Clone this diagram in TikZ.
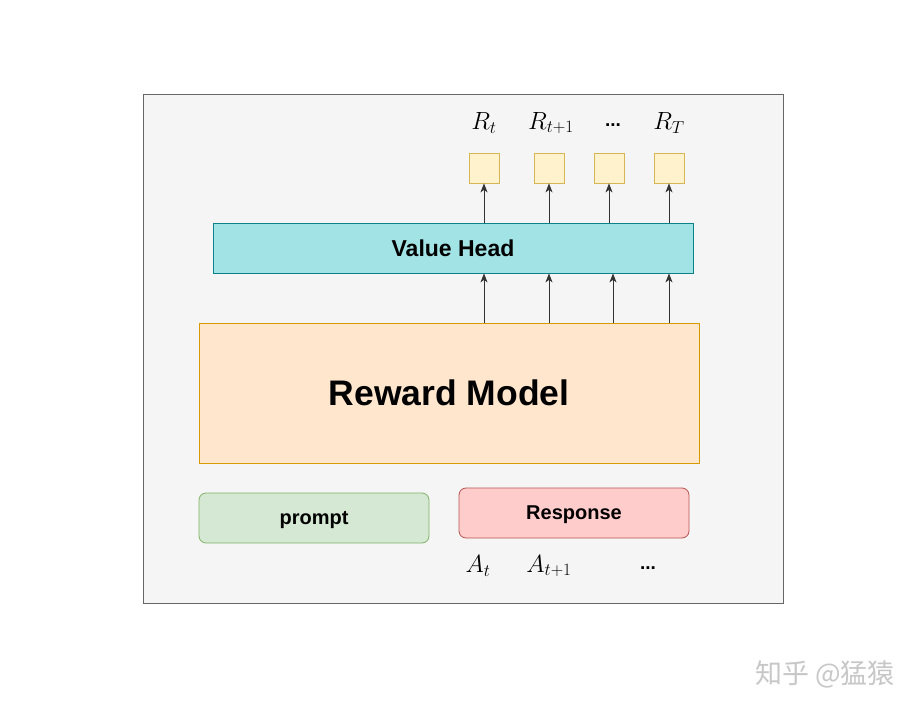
\documentclass[tikz,border=0pt]{standalone}
\usepackage{fontspec}
\setmainfont{Liberation Sans}
\newfontfamily\cjk{Noto Sans CJK SC}
\usetikzlibrary{arrows.meta}
\definecolor{bgfill}{HTML}{F5F5F5}
\definecolor{bgdraw}{HTML}{666666}
\definecolor{vhfill}{HTML}{A2E4E6}
\definecolor{vhdraw}{HTML}{0E8088}
\definecolor{rmfill}{HTML}{FFE6CC}
\definecolor{rmdraw}{HTML}{D79B00}
\definecolor{prfill}{HTML}{D5E8D4}
\definecolor{prdraw}{HTML}{82B366}
\definecolor{rsfill}{HTML}{FFCCCC}
\definecolor{rsdraw}{HTML}{B85450}
\definecolor{sqfill}{HTML}{FFF2CC}
\definecolor{sqdraw}{HTML}{D6B656}
\tikzset{
  box/.style={draw, line width=0.8pt, inner sep=0pt, font=\bfseries},
  sqbox/.style={draw=sqdraw, fill=sqfill, line width=0.8pt, minimum width=30pt, minimum height=30pt, inner sep=0pt},
  lab/.style={font=\fontsize{24}{28}\selectfont, inner sep=0pt},
  dotlab/.style={font=\bfseries\fontsize{19}{22}\selectfont, inner sep=0pt},
  arr/.style={-{Stealth[length=9pt,width=7pt,inset=2.5pt]}, line width=1pt, draw=black!80, fill=black},
}
\begin{document}
\begin{tikzpicture}[x=1pt,y=-1pt]
\useasboundingbox (0,0) rectangle (921,711);
\fill[white] (0,0) rectangle (921,711);
\node[draw=bgdraw, fill=bgfill, line width=0.8pt, minimum width=640pt, minimum height=509pt, inner sep=0pt] (bg) at (463,348.5) {};
\node[box, draw=vhdraw, fill=vhfill, minimum width=480pt, minimum height=50pt, font=\bfseries\fontsize{23}{26}\selectfont] (vh) at (453,248) {Value Head};
\node[box, draw=rmdraw, fill=rmfill, minimum width=500pt, minimum height=140pt, font=\bfseries\fontsize{35.5}{40}\selectfont] (rm) at (449,393) {Reward Model};
\node[box, draw=prdraw, fill=prfill, rounded corners=7pt, minimum width=230pt, minimum height=50pt, text depth=0pt, font=\bfseries\fontsize{20}{24}\selectfont] (pr) at (314,518) {prompt};
\node[box, draw=rsdraw, fill=rsfill, rounded corners=7pt, minimum width=230pt, minimum height=50pt, text depth=0pt, font=\bfseries\fontsize{20}{24}\selectfont] (rs) at (574,513) {Response};
\node[sqbox] (s1) at (484,168) {};
\node[sqbox] (s2) at (549,168) {};
\node[sqbox] (s3) at (609,168) {};
\node[sqbox] (s4) at (669,168) {};
\node[lab] (r1) at (484,123) {$R_t$};
\node[lab] (r2) at (551,123) {$R_{t+1}$};
\node[dotlab] (rd) at (613,125) {...};
\node[lab] (r4) at (669,123) {$R_T$};
\node[lab] (a1) at (478,566) {$A_t$};
\node[lab] (a2) at (549,566) {$A_{t+1}$};
\node[dotlab] (ad) at (648,568) {...};
\draw[arr] (vh.north -| s1) -- (s1.south);
\draw[arr] (vh.north -| s2) -- (s2.south);
\draw[arr] (vh.north -| s3) -- (s3.south);
\draw[arr] (vh.north -| s4) -- (s4.south);
\draw[arr] (rm.north -| s1) -- (vh.south -| s1);
\draw[arr] (rm.north -| s2) -- (vh.south -| s2);
\draw[arr] (rm.north -| rd) -- (vh.south -| rd);
\draw[arr] (rm.north -| s4) -- (vh.south -| s4);
\node[font=\cjk\fontsize{27}{30}\selectfont, text=black!22, inner sep=0pt] (wm) at (825,674) {知乎 @猛猿};
\end{tikzpicture}
\end{document}
